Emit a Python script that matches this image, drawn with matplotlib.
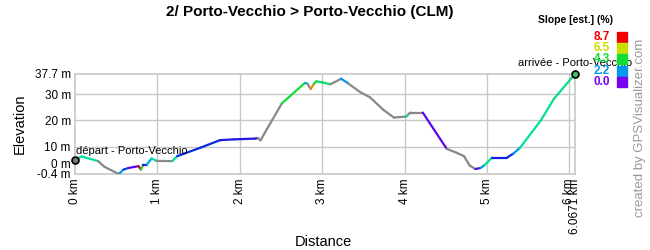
import matplotlib
matplotlib.use('Agg')
import matplotlib.pyplot as plt
import numpy as np
from matplotlib.collections import LineCollection
from matplotlib.colors import LinearSegmentedColormap
from matplotlib.transforms import ScaledTranslation

plt.rcParams['font.family'] = ['Liberation Sans', 'DejaVu Sans']

# profile points (km, m)
dist = [0.0, 0.08, 0.28, 0.36, 0.53, 0.59, 0.65, 0.72, 0.77, 0.80,
        0.83, 0.87, 0.93, 0.99, 1.18, 1.24, 1.52, 1.76, 1.93, 2.19,
        2.22, 2.25, 2.51, 2.79, 2.82, 2.86, 2.90, 2.93, 3.00, 3.10,
        3.23, 3.32, 3.46, 3.58, 3.74, 3.87, 4.02, 4.05, 4.07, 4.22,
        4.51, 4.63, 4.72, 4.79, 4.86, 4.92, 4.97, 5.06, 5.24, 5.32,
        5.40, 5.65, 5.81, 6.0671]
elev = [5.0, 6.3, 4.5, 2.3, -0.4, 1.3, 1.9, 2.3, 2.6, 1.3,
        3.2, 3.2, 5.5, 4.6, 4.5, 6.4, 9.6, 12.5, 12.8, 13.1,
        13.3, 12.4, 26.5, 34.3, 34.0, 32.0, 34.0, 34.9, 34.5, 33.8,
        35.9, 34.0, 30.8, 28.8, 24.1, 21.1, 21.5, 22.5, 23.0, 23.0,
        9.2, 7.7, 6.4, 2.8, 1.5, 1.9, 3.0, 5.8, 5.8, 7.4,
        9.6, 19.9, 28.2, 37.7]
# slope class per segment (nan = grey)
nan = np.nan
seg_slope = [3.3, 3.3, nan, nan, 2.2, 1.5, 0.3, 0.5, 8.7, 4.3,
             0.8, 2.5, 3.3, nan, 3.3, 1.2, 1.2, 0.9, 0.9, 0.3,
             nan, nan, 4.3, 2.5, nan, 7.6, 4.3, 3.8, 3.8, nan,
             2.2, nan, nan, nan, nan, nan, 3.3, nan, nan, 0.3,
             nan, nan, nan, nan, 0.4, 2.2, 3.5, 1.0, 1.3, 2.2,
             3.3, 3.5, 3.6]

legend_vals = [8.7, 6.5, 4.3, 2.2, 0.0]
legend_cols = ['#ee0000', '#ccdd00', '#11dd33', '#0099ee', '#7700ee']

x_ticks = [0, 1, 2, 3, 4, 5, 6, 6.0671]
x_labels = ['0 km', '1 km', '2 km', '3 km', '4 km', '5 km', '6 km', '6.0671 km']
y_ticks = [-0.4, 0, 10, 20, 30, 37.7]
y_labels = ['-0.4 m', '0 m', '10 m', '20 m', '30 m', '37.7 m']

cmap = LinearSegmentedColormap.from_list('slope', [
    (0.0, '#7700ee'), (1.1 / 8.7, '#0a1ee0'), (2.2 / 8.7, '#0099ee'),
    (3.3 / 8.7, '#00e0a0'), (4.3 / 8.7, '#11dd33'), (6.5 / 8.7, '#ccdd00'),
    (7.6 / 8.7, '#ee8800'), (1.0, '#ee0000')])

fig = plt.figure(figsize=(6.5, 2.5), dpi=100)
ax = fig.add_axes([75 / 650, 1 - 174 / 250, 500 / 650, 100 / 250])

pts = np.column_stack([dist, elev])
segs = np.stack([pts[:-1], pts[1:]], axis=1)
cols = ['#888888' if np.isnan(s) else cmap(s / 8.7) for s in seg_slope]
ax.add_collection(LineCollection(segs, colors=cols, linewidths=1.6,
                                 capstyle='round', zorder=3))

ax.set_xlim(0, 6.0671)
ax.set_ylim(-0.4, 37.7)

# start / end markers
ax.plot(dist[0], elev[0], 'o', ms=5, mfc='#777777', mec='black', mew=1.2,
        zorder=5, clip_on=False)
ax.plot(dist[-1], elev[-1], 'o', ms=5, mfc='#44bb66', mec='black', mew=1.2,
        zorder=5, clip_on=False)
ax.annotate('départ - Porto-Vecchio', (dist[0], elev[0]), xytext=(1, 3),
            textcoords='offset points', fontsize=8, ha='left', va='bottom',
            zorder=6)
ax.annotate('arrivée - Porto-Vecchio', (dist[-1], elev[-1]), xytext=(0, 4),
            textcoords='offset points', fontsize=8, ha='center', va='bottom',
            zorder=6, annotation_clip=False)

ax.set_xticks(x_ticks)
ax.set_xticklabels(x_labels, rotation=90, fontsize=8.5)
ax.set_yticks(y_ticks)
ax.set_yticklabels(y_labels, fontsize=8.5)
ax.tick_params(length=0, pad=3)
lab0 = ax.get_yticklabels()[1]
lab0.set_transform(lab0.get_transform() + ScaledTranslation(0, 0.09, fig.dpi_scale_trans))

for v in [10, 20, 30]:
    ax.axhline(v, color='#c8c8c8', lw=1, zorder=1)
for v in [1, 2, 3, 4, 5, 6]:
    ax.axvline(v, color='#c8c8c8', lw=1, zorder=1)
for s in ax.spines.values():
    s.set_color('#c8c8c8')
    s.set_linewidth(1.2)

fig.text(323 / 650, 1 - 242 / 250, 'Distance', fontsize=10.5,
         ha='center', va='center')
ax.set_ylabel('Elevation', fontsize=10.5, labelpad=6)

fig.text(310 / 650, 1 - 12 / 250, '2/ Porto-Vecchio > Porto-Vecchio (CLM)',
         fontsize=11, fontweight='bold', ha='center', va='center')

# slope legend
fig.text(575 / 650, 1 - 20 / 250, 'Slope [est.] (%)', fontsize=7.5,
         fontweight='bold', ha='center', va='center')
for i, (v, c) in enumerate(zip(legend_vals, legend_cols)):
    y = 1 - (37 + i * 11.2) / 250
    fig.text(610 / 650, y, f'{v:.1f}', color=c, fontsize=8.5, fontweight='bold',
             ha='right', va='center')
    fig.patches.append(plt.Rectangle((617 / 650, y - 5 / 250), 10 / 650, 10 / 250,
                                     transform=fig.transFigure, color=c))

fig.text(640 / 650, 1 - 128 / 250, 'created by GPSVisualizer.com', rotation=90,
         fontsize=9.5, color='#999999', ha='center', va='center')

fig.savefig('out.png', dpi=100, facecolor='white')
